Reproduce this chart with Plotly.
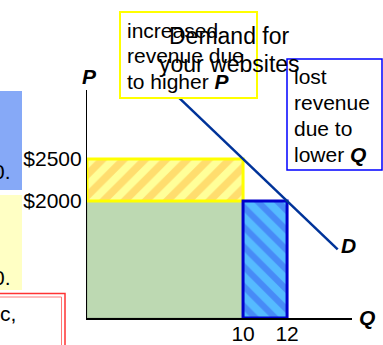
import plotly.graph_objects as go

# ---- data ----
Q_high_price = 10      # quantity sold at the higher price
Q_low_price = 12       # quantity sold at the lower price
P_low = 2000
P_high = 2500
demand_q = [7.0, 14.3]
demand_p = [3250, 1425]
x_tick_vals = [10, 12]
x_tick_text = ["10", "12"]
y_tick_vals = [2000, 2500]
y_tick_text = ["$2000", "$2500"]
gain_lines = ["increased", "revenue due", "to higher <b><i>P</i></b>"]
loss_lines = ["lost", "revenue", "due to", "lower <b><i>Q</i></b>"]
demand_lines = ["Demand for", "your websites"]

# ---- layout constants ----
W, H = 383, 345
L, R, T, B = 87, 31, 90, 27
PW, PH = W - L - R, H - T - B
X_RANGE = [2.91, 14.95]
Y_RANGE = [607, 3321]
FONT = "Liberation Sans, Arial, sans-serif"


def px(x):
    return (x - L) / PW


def py(y):
    return (T + PH - y) / PH


x0 = X_RANGE[0]
y0 = Y_RANGE[0]

fig = go.Figure()

# green: revenue kept
fig.add_trace(go.Scatter(
    x=[x0, Q_high_price, Q_high_price, x0, x0],
    y=[y0, y0, P_low, P_low, y0],
    fill="toself", fillcolor="#bdd9b2", mode="lines",
    line=dict(color="#9fb894", width=1), hoverinfo="skip"))

# yellow: increased revenue due to higher P
fig.add_trace(go.Scatter(
    x=[x0, Q_high_price, Q_high_price, x0, x0],
    y=[P_low, P_low, P_high, P_high, P_low],
    fill="toself", mode="lines",
    fillpattern=dict(shape="/", fgcolor="#ffbb44", bgcolor="#ffff99",
                     size=15, solidity=0.5),
    line=dict(color="#ffff00", width=3), hoverinfo="skip"))

# blue: lost revenue due to lower Q
fig.add_trace(go.Scatter(
    x=[Q_high_price, Q_low_price, Q_low_price, Q_high_price, Q_high_price],
    y=[y0, y0, P_low, P_low, y0],
    fill="toself", mode="lines",
    fillpattern=dict(shape="\\", fgcolor="#3a5cf0", bgcolor="#55bbff",
                     size=14, solidity=0.45),
    line=dict(color="#0000cc", width=3), hoverinfo="skip"))

# demand line
fig.add_trace(go.Scatter(
    x=demand_q, y=demand_p, mode="lines",
    line=dict(color="#003399", width=2.5), hoverinfo="skip"))

shapes = []
# left-side slide fragments
shapes.append(dict(type="rect", xref="paper", yref="paper",
                   x0=px(-5), x1=px(22), y0=py(190), y1=py(91),
                   fillcolor="#86a9f7", line=dict(width=0), layer="below"))
shapes.append(dict(type="rect", xref="paper", yref="paper",
                   x0=px(-5), x1=px(22), y0=py(290), y1=py(195),
                   fillcolor="#ffffc4", line=dict(width=0), layer="below"))
shapes.append(dict(type="rect", xref="paper", yref="paper",
                   x0=px(-5), x1=px(65), y0=py(360), y1=py(293.5),
                   fillcolor="rgba(0,0,0,0)", line=dict(color="#ff3333", width=1.5),
                   layer="above"))
shapes.append(dict(type="rect", xref="paper", yref="paper",
                   x0=px(-5), x1=px(61.5), y0=py(360), y1=py(297),
                   fillcolor="rgba(0,0,0,0)", line=dict(color="#ff7777", width=1),
                   layer="above"))
# callout boxes
shapes.append(dict(type="rect", xref="paper", yref="paper",
                   x0=px(120), x1=px(257), y0=py(98), y1=py(12),
                   fillcolor="white", line=dict(color="#ffff00", width=2),
                   layer="above"))
shapes.append(dict(type="rect", xref="paper", yref="paper",
                   x0=px(287), x1=px(382), y0=py(170), y1=py(59),
                   fillcolor="white", line=dict(color="#0000ff", width=1.5),
                   layer="above"))

ann = []


def text(t, x, y, size=21, xanchor="left", color="black"):
    ann.append(dict(text=t, xref="paper", yref="paper", x=px(x), y=py(y),
                    xanchor=xanchor, yanchor="middle", showarrow=False,
                    font=dict(family=FONT, size=size, color=color)))


for i, t in enumerate(gain_lines):
    text(t, 125, 30 + 25.8 * i)
for i, t in enumerate(loss_lines):
    text(t, 292, 77 + 25.8 * i)
for i, t in enumerate(demand_lines):
    text(t, 229, 36 + 28 * i, size=23, xanchor="center")

text("<b><i>P</i></b>", 89, 77, xanchor="center")
text("<b><i>D</i></b>", 348, 245, xanchor="center")
text("<b><i>Q</i></b>", 367, 317, xanchor="center")
text("0.", 13, 171, xanchor="right")
text("0.", 13, 277, xanchor="right")
text("c,", -2, 313)

fig.update_layout(
    width=W, height=H,
    margin=dict(l=L, r=R, t=T, b=B, pad=0),
    paper_bgcolor="white", plot_bgcolor="white",
    showlegend=False,
    shapes=shapes, annotations=ann,
    font=dict(family=FONT, size=21, color="black"),
    xaxis=dict(range=X_RANGE, showgrid=False, zeroline=False, automargin=False,
               showline=True, linecolor="black", linewidth=2,
               tickvals=x_tick_vals, ticktext=x_tick_text, ticks="",
               ticklabelstandoff=-4,
               tickfont=dict(family=FONT, size=21, color="black"),
               layer="below traces", fixedrange=True),
    yaxis=dict(range=Y_RANGE, showgrid=False, zeroline=False, automargin=False,
               showline=True, linecolor="black", linewidth=1.2,
               tickvals=y_tick_vals, ticktext=y_tick_text, ticks="",
               tickfont=dict(family=FONT, size=21, color="black"),
               layer="below traces", fixedrange=True),
)

fig.write_html("out.html", config={"displayModeBar": False},
               post_script="document.body.style.margin='0';")
